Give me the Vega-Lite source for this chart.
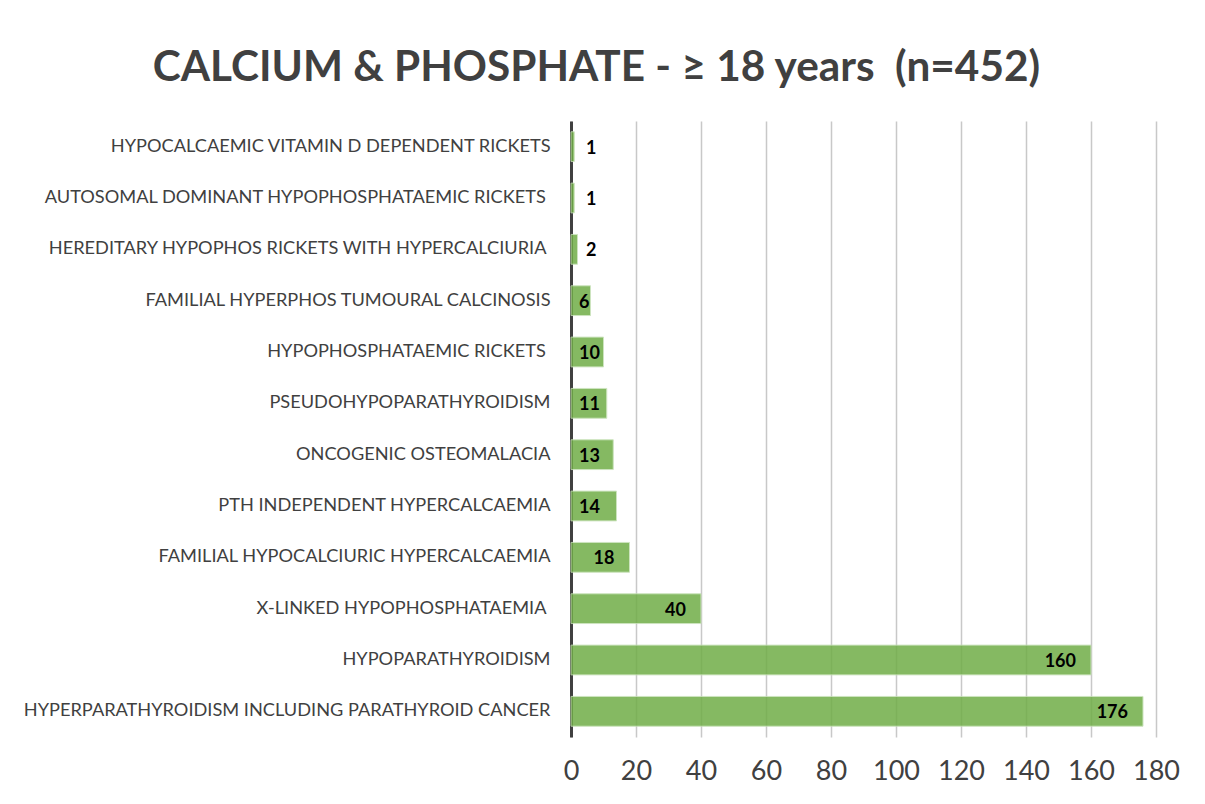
{
  "$schema": "https://vega.github.io/schema/vega-lite/v6.json",
  "width": 585,
  "height": 616,
  "autosize": {"type": "none"},
  "padding": {"left": 571, "top": 121, "right": 49, "bottom": 67},
  "background": "white",
  "title": {
    "text": "CALCIUM & PHOSPHATE - ≥ 18 years\u00a0 (n=452)",
    "font": "Lato",
    "fontSize": 42.3,
    "fontWeight": "bold",
    "color": "#404040",
    "anchor": "middle",
    "frame": "bounds",
    "offset": 31,
    "dx": -5
  },
  "config": {
    "view": {"stroke": null},
    "font": "Lato"
  },
  "data": {
    "values": [
      {"condition": "HYPOCALCAEMIC VITAMIN D DEPENDENT RICKETS", "count": 1},
      {"condition": "AUTOSOMAL DOMINANT HYPOPHOSPHATAEMIC RICKETS\u00a0\u200b", "count": 1},
      {"condition": "HEREDITARY HYPOPHOS RICKETS WITH HYPERCALCIURIA\u00a0\u200b", "count": 2},
      {"condition": "FAMILIAL HYPERPHOS TUMOURAL CALCINOSIS", "count": 6},
      {"condition": "HYPOPHOSPHATAEMIC RICKETS\u00a0\u200b", "count": 10},
      {"condition": "PSEUDOHYPOPARATHYROIDISM", "count": 11},
      {"condition": "ONCOGENIC OSTEOMALACIA", "count": 13},
      {"condition": "PTH INDEPENDENT HYPERCALCAEMIA", "count": 14},
      {"condition": "FAMILIAL HYPOCALCIURIC HYPERCALCAEMIA", "count": 18},
      {"condition": "X-LINKED HYPOPHOSPHATAEMIA\u00a0\u200b", "count": 40},
      {"condition": "HYPOPARATHYROIDISM", "count": 160},
      {"condition": "HYPERPARATHYROIDISM INCLUDING PARATHYROID CANCER", "count": 176}
    ]
  },
  "encoding": {
    "y": {
      "field": "condition",
      "type": "nominal",
      "sort": null,
      "scale": {"paddingInner": 0.42, "paddingOuter": 0.21},
      "axis": {
        "title": null,
        "ticks": false,
        "labelPadding": 21,
        "labelFont": "Lato",
        "labelFontSize": 18.2,
        "labelColor": "#404040",
        "labelLimit": 600,
        "domainColor": "#404040",
        "domainWidth": 3,
        "grid": false
      }
    }
  },
  "layer": [
    {
      "mark": {"type": "bar", "color": "#70AD47", "opacity": 0.85, "stroke": "#c5e0b4", "strokeWidth": 1},
      "encoding": {
        "x": {
          "field": "count",
          "type": "quantitative",
          "scale": {"domain": [0, 180], "nice": false},
          "axis": {
            "title": null,
            "values": [0, 20, 40, 60, 80, 100, 120, 140, 160, 180],
            "domain": false,
            "ticks": false,
            "grid": true,
            "gridColor": "#c8c8c8",
            "gridWidth": 1.5,
            "labelFont": "Lato",
            "labelFontSize": 27,
            "labelColor": "#404040",
            "labelPadding": 21,
            "labelFlush": false
          }
        }
      }
    },
    {
      "transform": [{"filter": "datum.count >= 18"}],
      "mark": {"type": "text", "align": "right", "baseline": "middle", "dx": -15, "dy": 2, "font": "Lato", "fontSize": 18, "fontWeight": "bold", "color": "#000000"},
      "encoding": {
        "x": {"field": "count", "type": "quantitative"},
        "text": {"field": "count", "type": "quantitative"}
      }
    },
    {
      "transform": [{"filter": "datum.count >= 5 && datum.count < 18"}],
      "mark": {"type": "text", "align": "left", "baseline": "middle", "dx": 8, "dy": 2, "font": "Lato", "fontSize": 18, "fontWeight": "bold", "color": "#000000"},
      "encoding": {
        "x": {"datum": 0, "type": "quantitative"},
        "text": {"field": "count", "type": "quantitative"}
      }
    },
    {
      "transform": [{"filter": "datum.count < 5"}],
      "mark": {"type": "text", "align": "left", "baseline": "middle", "dx": 15, "dy": 2, "font": "Lato", "fontSize": 18, "fontWeight": "bold", "color": "#000000"},
      "encoding": {
        "x": {"datum": 0, "type": "quantitative"},
        "text": {"field": "count", "type": "quantitative"}
      }
    }
  ]
}
